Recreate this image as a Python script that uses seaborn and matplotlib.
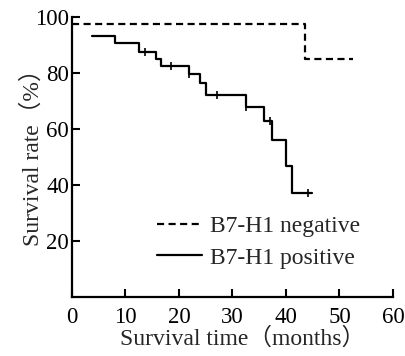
import matplotlib
matplotlib.use("Agg")
import matplotlib.pyplot as plt
import seaborn as sns
import pandas as pd

# Kaplan-Meier style survival data
neg_time = [0, 43.5, 52.5]
neg_surv = [97.5, 85.0, 85.0]

pos_time = [3.7, 8.0, 12.5, 15.7, 16.6, 21.9, 23.9, 25.0, 32.5, 35.9, 37.4, 40.1, 41.2, 44.9]
pos_surv = [93.2, 90.8, 87.4, 85.1, 82.5, 79.5, 76.3, 72.3, 67.7, 63.0, 56.1, 46.9, 37.0, 37.0]

cens_time = [13.6, 18.6, 21.9, 27.2, 32.5, 37.0, 44.1]
cens_surv = [87.4, 82.5, 79.5, 72.3, 67.7, 63.0, 37.0]

x_ticks = [0, 10, 20, 30, 40, 50, 60]
y_ticks = [20, 40, 60, 80, 100]

sns.set_style("ticks")
plt.rcParams["font.family"] = ["Liberation Serif", "Noto Sans CJK SC"]
plt.rcParams["xtick.direction"] = "in"
plt.rcParams["ytick.direction"] = "in"

neg = pd.DataFrame({"time": neg_time, "surv": neg_surv})
pos = pd.DataFrame({"time": pos_time, "surv": pos_surv})
cens = pd.DataFrame({"time": cens_time, "surv": cens_surv})

fig = plt.figure(figsize=(4.06, 3.56), dpi=100)
ax = fig.add_axes([0.177, 0.166, 0.791, 0.786])

sns.lineplot(data=neg, x="time", y="surv", ax=ax, color="black", lw=1.6,
             drawstyle="steps-post", linestyle=(0, (3.2, 2.0)), label="B7-H1 negative")
sns.lineplot(data=pos, x="time", y="surv", ax=ax, color="black", lw=1.6,
             drawstyle="steps-post", label="B7-H1 positive")
sns.scatterplot(data=cens, x="time", y="surv", ax=ax, marker="|", s=40,
                color="black", linewidth=1.2, legend=False)

ax.set_xlim(0, 60)
ax.set_ylim(0, 100)
ax.set_xticks(x_ticks)
ax.set_yticks(y_ticks)
ax.tick_params(labelsize=16.5, width=1.5, length=6, colors="black")
ax.tick_params(axis="x", pad=7)
ax.tick_params(axis="y", pad=2)
for s in ["left", "bottom"]:
    ax.spines[s].set_linewidth(1.6)
    ax.spines[s].set_color("black")
sns.despine(ax=ax)

ax.set_xlabel("Survival time（months）", fontsize=17, labelpad=0)
ax.xaxis.label.set_x(0.53)
ax.set_ylabel("Survival rate（%）", fontsize=17)
ax.yaxis.set_label_coords(-0.088, 0.52)

ax.legend(loc="lower left", bbox_to_anchor=(0.20, 0.025), frameon=False,
          fontsize=17, handlelength=1.9, handletextpad=0.33, labelspacing=0.43)

fig.savefig("out.png", dpi=100)
